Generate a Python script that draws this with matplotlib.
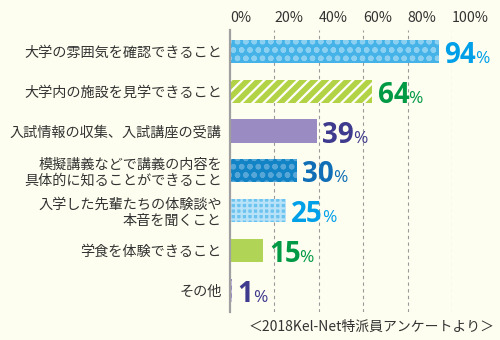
import matplotlib
matplotlib.use('Agg')
import matplotlib.pyplot as plt

plt.rcParams['font.family'] = ['Noto Sans CJK JP', 'DejaVu Sans']
plt.rcParams['hatch.linewidth'] = 1.6

items = ['大学の雰囲気を確認できること',
         '大学内の施設を見学できること',
         '入試情報の収集、入試講座の受講',
         '模擬講義などで講義の内容を\n具体的に知ることができること',
         '入学した先輩たちの体験談や\n本音を聞くこと',
         '学食を体験できること',
         'その他']
values = [94, 64, 39, 30, 25, 15, 1]
xticks = [0, 20, 40, 60, 80, 100]
source = '＜2018Kel-Net特派員アンケートより＞'

bar_colors = ['#45B3E7', '#B3D347', '#9A8BC2', '#1284C5', '#6CC3EF', '#B0D456', '#9A8BC2']
hatch_colors = ['#8BCFF1', '#FFFFFF', '#9A8BC2', '#56A6D8', '#B8E2F7', '#B0D456', '#C9C0E0']
hatches = ['oo', '///', None, 'oo', '+++', None, 'oo']
label_colors = ['#00A0E9', '#009944', '#3E3A8E', '#0F6EB5', '#00A0E9', '#009944', '#3E3A8E']
bg = '#FEFEF0'

fig = plt.figure(figsize=(5, 3.4), dpi=100, facecolor=bg)
ax = fig.add_axes([0.46, 0.082, 0.444, 0.829], facecolor=bg)

ypos = list(range(len(items)))
h = 0.58
for i in ypos:
    ax.barh(i, values[i], height=h, color=bar_colors[i], edgecolor=hatch_colors[i],
            linewidth=0, hatch=hatches[i], zorder=2)

ax.set_xlim(0, 100)
ax.set_ylim(6.55, -0.53)
ax.set_yticks(ypos)
ax.set_yticklabels(items, fontsize=10.2, color='#333333', linespacing=1.15)
ax.tick_params(axis='y', length=0, pad=6)
ax.set_xticks([])
for x in xticks[1:]:
    ax.axvline(x, color='#999999', linestyle=(0, (3, 3)), linewidth=0.8, zorder=1)
for x in xticks:
    ax.text(x, -0.83, f'{x}%', ha='left', va='center', fontsize=10.2, color='#333333',
            clip_on=False)

for s in ['top', 'right', 'bottom']:
    ax.spines[s].set_visible(False)
ax.spines['left'].set_color('#A0A0A0')
ax.spines['left'].set_linewidth(1.6)
ax.spines['left'].set_zorder(3)

num_font = ['Open Sans', 'DejaVu Sans']
fig.canvas.draw()
r = fig.canvas.get_renderer()
nums = []
for i in ypos:
    t = ax.annotate(str(values[i]), (values[i], i + h / 2), xytext=(4, 0),
                    textcoords='offset points', ha='left', va='baseline',
                    fontsize=20, fontweight='bold', color=label_colors[i],
                    family=num_font, annotation_clip=False)
    nums.append(t)
fig.canvas.draw()
for i, t in enumerate(nums):
    bb = t.get_window_extent(r)
    y_disp = ax.transData.transform((0, i + h / 2))[1]
    fig.text((bb.x1 - 1) / fig.bbox.width, y_disp / fig.bbox.height, '%',
             ha='left', va='baseline', fontsize=12.5, color=label_colors[i],
             family=num_font)

fig.text(0.99, 0.04, source, ha='right', va='center', fontsize=10, color='#333333')

fig.savefig('out.png', dpi=100, facecolor=bg)
